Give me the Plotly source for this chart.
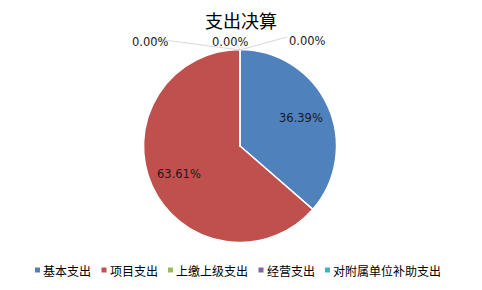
import math
import plotly.graph_objects as go

categories = ["基本支出", "项目支出", "上缴上级支出", "经营支出", "对附属单位补助支出"]
shares = [36.39, 63.61, 0.00, 0.00, 0.00]
colors = ["#4F81BD", "#C0504D", "#9BBB59", "#8064A2", "#4BACC6"]

CJK = "Noto Sans CJK SC, sans-serif"
NUM = "DejaVu Sans, sans-serif"
W, H = 482, 290
CX, CY, R = 240, 146, 96.5   # pie centre and radius in pixels

fig = go.Figure(go.Pie(
    labels=categories,
    values=shares,
    sort=False,
    direction="clockwise",
    rotation=0,
    marker=dict(colors=colors, line=dict(color="white", width=1.5)),
    textinfo="none",
    domain=dict(x=[(CX - R) / W, (CX + R) / W], y=[1 - (CY + R) / H, 1 - (CY - R) / H]),
    showlegend=False,
    hoverinfo="label+percent",
))

def px(x, y):
    return x / W, 1 - y / H

# Percentage labels for non-zero slices, placed along each slice's mid-angle
total = sum(shares)
start = 0.0
for v in shares:
    frac = v / total
    if v > 0:
        mid = (start + frac / 2) * 2 * math.pi
        lx = CX + 0.7 * R * math.sin(mid)
        ly = CY - 0.7 * R * math.cos(mid)
        x, y = px(lx, ly)
        fig.add_annotation(xref="paper", yref="paper", x=x, y=y, text=f"{v:.2f}%",
                           showarrow=False, font=dict(family=NUM, size=11.5, color="#1a1a1a"))
    start += frac

# Zero-valued slices sit at the top of the pie; label them outside with leader lines
zero_vals = [v for v in shares if v == 0]
label_pos = [(130, 33), (230, 33), (307, 32)]
line_start = [(149, 38), (234, 40), (287, 37)]
anchor = (240, 50)
for v, (lx, ly), (sx, sy) in zip(zero_vals, label_pos, line_start):
    x0, y0 = px(sx, sy)
    x1, y1 = px(*anchor)
    fig.add_shape(type="line", xref="paper", yref="paper", x0=x0, y0=y0, x1=x1, y1=y1,
                  line=dict(color="#d9d9d9", width=1))
    x, y = px(lx, ly)
    fig.add_annotation(xref="paper", yref="paper", x=x, y=y, text=f"{v:.2f}%",
                       showarrow=False, font=dict(family=NUM, size=11.5, color="#1a1a1a"))

# Legend row: small colour square followed by the category name
LEG_Y = 270
FS = 12
xpos = 35
for name, col in zip(categories, colors):
    x0, y0 = px(xpos, LEG_Y - 2.5)
    x1, y1 = px(xpos + 5, LEG_Y + 2.5)
    fig.add_shape(type="rect", xref="paper", yref="paper", x0=x0, y0=y0, x1=x1, y1=y1,
                  fillcolor=col, line=dict(width=0))
    tx, ty = px(xpos + 6, LEG_Y)
    fig.add_annotation(xref="paper", yref="paper", x=tx, y=ty, text=name, showarrow=False,
                       xanchor="left", yanchor="middle",
                       font=dict(family=CJK, size=FS, color="#000000"))
    xpos += 6 + FS * len(name) + 12.5

fig.update_layout(
    width=W, height=H,
    margin=dict(l=0, r=0, t=0, b=0),
    paper_bgcolor="white",
    title=dict(text="支出决算", x=0.5, xanchor="center", y=1 - 22 / H, yanchor="middle",
               font=dict(family=CJK, size=18, color="#000000")),
)

fig.write_html("out.html")
